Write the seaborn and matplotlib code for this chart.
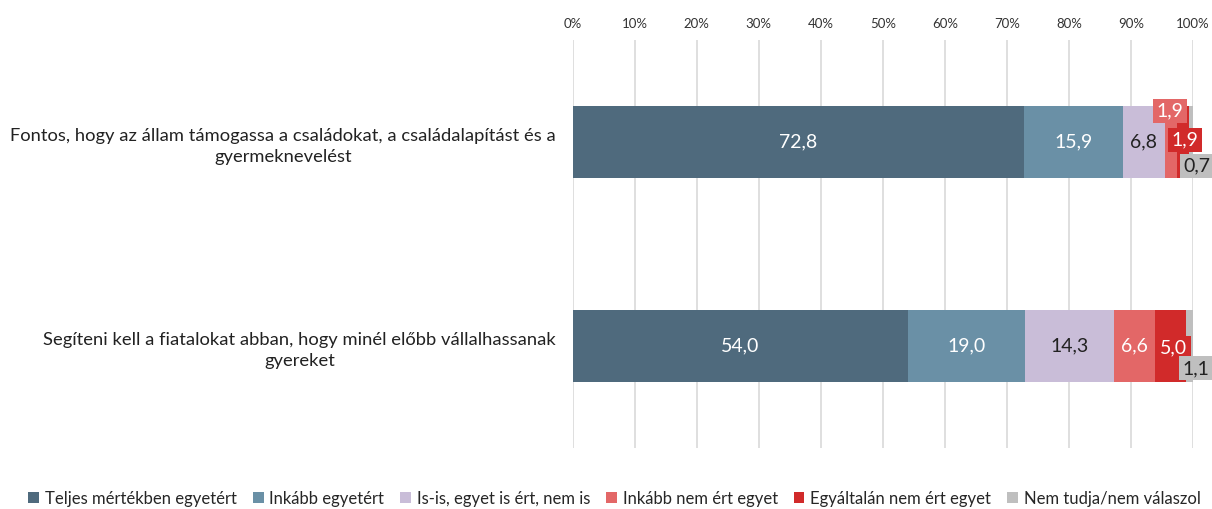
import matplotlib
matplotlib.use("Agg")
import matplotlib.pyplot as plt
import seaborn as sns
import pandas as pd
import numpy as np

questions = [
    "Fontos, hogy az állam támogassa a családokat, a családalapítást és a\ngyermeknevelést",
    "Segíteni kell a fiatalokat abban, hogy minél előbb vállalhassanak\ngyereket",
]
answers = [
    "Teljes mértékben egyetért",
    "Inkább egyetért",
    "Is-is, egyet is ért, nem is",
    "Inkább nem ért egyet",
    "Egyáltalán nem ért egyet",
    "Nem tudja/nem válaszol",
]
q1_values = [72.8, 15.9, 6.8, 1.9, 1.9, 0.7]
q2_values = [54.0, 19.0, 14.3, 6.6, 5.0, 1.1]
colors = ["#4F6A7D", "#6A90A6", "#C9BDD8", "#E36767", "#D12A2A", "#BFBFBF"]
text_colors = ["white", "white", "#222222", "white", "white", "#222222"]
pct_ticks = list(range(0, 101, 10))

sns.set_theme(style="white")
plt.rcParams["font.family"] = ["Lato", "DejaVu Sans"]

vals = np.array([q1_values, q2_values])
cum = vals.cumsum(axis=1)

rows = []
for qi, q in enumerate(questions):
    for ai, a in enumerate(answers):
        rows.append({"question": q, "answer": a, "value": vals[qi, ai], "cum": cum[qi, ai]})
df = pd.DataFrame(rows)

fig = plt.figure(figsize=(12.12, 5.09), dpi=100)
ax = fig.add_axes([0.4725, 0.1198, 0.5118, 0.8016])

# stacked look: draw cumulative totals from the last answer backwards
for ai in range(len(answers) - 1, -1, -1):
    sub = df[df["answer"] == answers[ai]]
    sns.barplot(data=sub, x="cum", y="question", order=questions, color=colors[ai],
                orient="h", width=0.355, saturation=1, ax=ax, label=answers[ai],
                linewidth=0, edgecolor="none", zorder=2)

ax.set_xlim(0, 100)
ax.set_xticks(pct_ticks)
ax.set_xticklabels([f"{t}%" for t in pct_ticks], fontsize=9.5, color="#333333")
ax.xaxis.tick_top()
ax.tick_params(axis="x", length=0, pad=7)
ax.tick_params(axis="y", length=0, pad=12)
ax.set_xlabel("")
ax.set_ylabel("")
ax.set_ylim(1.5, -0.5)
for lbl in ax.get_yticklabels():
    lbl.set_fontsize(13.2)
    lbl.set_multialignment("center")
    lbl.set_linespacing(1.4)
    lbl.set_color("#222222")
ax.grid(axis="x", color="#D9D9D9", linewidth=1.2, zorder=0)
ax.set_axisbelow(True)
for s in ax.spines.values():
    s.set_visible(False)

# value labels; small segments get a coloured box pushed off the bar
boxed = {(0, 3): (-0.15, -0.153), (0, 4): (0.35, -0.01), (0, 5): (0.95, 0.118),
         (1, 4): (0.5, 0.01), (1, 5): (1.05, 0.11)}
for qi in range(len(questions)):
    for ai in range(len(answers)):
        v = vals[qi, ai]
        xc = cum[qi, ai] - v / 2
        lab = f"{v:.1f}".replace(".", ",")
        if (qi, ai) in boxed:
            dx, dy = boxed[(qi, ai)]
            ax.text(xc + dx, qi + dy, lab, ha="center", va="center", fontsize=14,
                    color=text_colors[ai], zorder=5, clip_on=False,
                    bbox=dict(boxstyle="square,pad=0.18", fc=colors[ai], ec="none"))
        else:
            ax.text(xc, qi, lab, ha="center", va="center", fontsize=14,
                    color=text_colors[ai], zorder=5)

handles, labels = ax.get_legend_handles_labels()
if ax.get_legend() is not None:
    ax.get_legend().remove()
order = [labels.index(a) for a in answers]
fig.legend([handles[i] for i in order], answers, loc="lower center",
           bbox_to_anchor=(0.507, -0.012), ncol=6, frameon=False,
           fontsize=12, handlelength=0.65, handleheight=0.65, handletextpad=0.35,
           columnspacing=0.95, borderaxespad=0.1)
fig.savefig("out.png", dpi=100)
